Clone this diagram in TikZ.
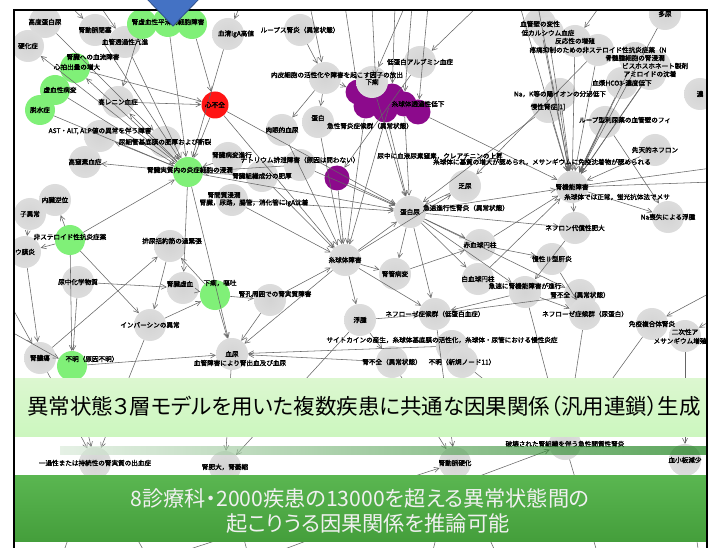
\documentclass[tikz,border=0pt]{standalone}
\usepackage{fontspec}
\newfontfamily\jp[RawFeature=+palt]{Noto Sans CJK JP}
\newfontfamily\jpb[FakeBold=2]{Noto Sans CJK JP}
\usetikzlibrary{arrows.meta,calc}
\definecolor{lgreen}{RGB}{128,240,120}
\definecolor{hfred}{RGB}{255,20,20}
\definecolor{purp}{RGB}{140,10,140}
\definecolor{arrblue}{RGB}{68,114,196}
\definecolor{lban}{RGB}{214,246,200}
\definecolor{dban}{RGB}{76,176,66}
\pgfdeclareradialshading{grayblob}{\pgfpoint{0bp}{0bp}}{color(0bp)=(black!17); color(30bp)=(black!13); color(50bp)=(white)}
\pgfdeclareradialshading{greenblob}{\pgfpoint{0bp}{0bp}}{color(0bp)=(lgreen); color(34bp)=(lgreen); color(50bp)=(lgreen!20!white)}
\tikzset{
	blob/.style={circle, minimum size=32pt, inner sep=0pt, shade, shading=grayblob},
	gblob/.style={circle, minimum size=30pt, inner sep=0pt, shade, shading=greenblob},
	rblob/.style={circle, minimum size=27pt, inner sep=0pt, fill=hfred},
	pblob/.style={circle, minimum size=25pt, inner sep=0pt, fill=purp},
	lbl/.style={font=\jpb\fontsize{6.6}{7.5}\selectfont, inner sep=0pt},
	arr/.style={-{Straight Barb[length=5pt,width=5pt]}, draw=black!60, line width=0.55pt},
	bantitle/.style={font=\jp\fontsize{21.5}{25}\selectfont, inner sep=0pt},
	bansub/.style={font=\jp\fontsize{21.2}{25}\selectfont, text=white!94!black, inner sep=0pt},
}

\begin{document}
\begin{tikzpicture}[x=1pt,y=-1pt]
			%%%%% START %%%%%
			\useasboundingbox (0,0) rectangle (720,548);
			\fill[white] (0,0) rectangle (720,548);
			
			\begin{scope}
			\clip (14,10) rectangle (707,548);
			
			% top row
			\node[blob] (kodo) at (45,22) {};
			\node[blob] (domyaku) at (95,30) {};
			\node[blob] (kekkan) at (125,42) {};
			\node[gblob] (kyoA) at (142,24) {};
			\node[gblob] (kyoB) at (168,22) {};
			\node[gblob] (kyoC) at (192,24) {};
			\node[blob] (iga) at (228,34) {};
			\node[blob] (lupus) at (300,30) {};
			\node[blob] (koukasho) at (28,46) {};
			
			\node[gblob] (shinpaku) at (75,68) {};
			\node[gblob] (kyoketsu) at (55,90) {};
			\node[gblob] (dassui) at (40,110) {};
			\node[blob] (renin) at (118,102) {};
			\node[rblob] (shinfuzen) at (215,105) {};
			\node[blob] (naihi) at (325,78) {};
			\node[blob] (ast) at (100,136) {};
			\node[blob] (nyosaikan) at (165,142) {};
			\node[blob] (chisso) at (85,162) {};
			\node[gblob] (jisshitsu) at (188,172) {};
			\node[blob] (shinbyo) at (228,158) {};
			\node[blob] (natri) at (300,165) {};
			\node[blob] (soshiki) at (262,176) {};
			\node[blob] (nikugan) at (282,130) {};
			\node[blob] (tanpakuA) at (318,122) {};
			\node[blob] (kanshitsu) at (232,200) {};
			
			% purple group
			\node[pblob] (pA) at (358,92) {};
			\node[pblob] (pB) at (376,88) {};
			\node[pblob] (pG) at (366,106) {};
			\node[pblob] (pC) at (392,96) {};
			\node[pblob] (pF) at (385,110) {};
			\node[pblob] (pD) at (404,104) {};
			\node[pblob] (pE) at (418,112) {};
			\node[pblob] (pH) at (337,178) {};
			
			% right top
			\node[blob] (kekkanheki) at (540,24) {};
			\node[blob] (lowca) at (548,33) {};
			\node[blob] (hannou) at (575,41) {};
			\node[blob] (nsaid) at (598,50) {};
			\node[blob] (tanyo) at (665,14) {};
			\node[blob] (kotsuzui) at (635,58) {};
			\node[blob] (bisu) at (655,66) {};
			\node[blob] (amyloid) at (650,74) {};
			\node[blob] (alb) at (420,62) {};
			\node[blob] (geri) at (372,82) {};
			\node[blob] (hco3) at (622,83) {};
			\node[blob] (nak) at (560,94) {};
			\node[blob] (noko) at (700,94) {};
			\node[blob] (mansei) at (548,107) {};
			\node[blob] (loop) at (605,122) {};
			\node[blob] (senten) at (655,150) {};
			\node[blob] (kinou) at (572,187) {};
			\node[blob] (naSoshitsu) at (668,217) {};
			\node[blob] (nephron) at (575,228) {};
			
			% middle
			\node[blob] (tanpaku) at (410,212) {};
			\node[blob] (bonyo) at (465,186) {};
			\node[blob] (sekkekkyu) at (480,245) {};
			\node[blob] (kanen) at (552,259) {};
			\node[blob] (shikyu) at (345,260) {};
			\node[blob] (jinkan) at (395,274) {};
			\node[blob] (hakkekkyu) at (478,279) {};
			\node[blob] (kyusoku) at (525,292) {};
			\node[blob] (fuzenA) at (580,295) {};
			\node[blob] (nephA) at (435,314) {};
			\node[blob] (nephB) at (585,314) {};
			\node[blob] (meneki) at (652,324) {};
			\node[blob] (nijisei) at (685,336) {};
			\node[blob] (fushu) at (360,320) {};
			\node[blob] (kiteimaku) at (452,346) {};
			\node[blob] (ketsunyo) at (232,354) {};
			\node[blob] (fuzenB) at (392,362) {};
			\node[blob] (fumeiB) at (462,362) {};
			
			% left
			\node[blob] (naizo) at (55,200) {};
			\node[blob] (idenshi) at (30,214) {};
			\node[gblob] (nsaidG) at (70,240) {};
			\node[blob] (makuen) at (25,252) {};
			\node[blob] (nyochu) at (78,282) {};
			\node[blob] (katsukin) at (170,246) {};
			\node[blob] (kyoketsu2) at (183,288) {};
			\node[gblob] (geriG) at (215,295) {};
			\node[blob] (jinkou) at (270,300) {};
			\node[blob] (inversin) at (150,325) {};
			\node[blob] (noyou) at (40,358) {};
			\node[gblob] (fumeiG) at (72,366) {};
			
			% between the banners
			\node[blob] (kyukan) at (565,444) {};
			\node[blob] (ikasei) at (95,463) {};
			\node[blob] (jinhi) at (225,467) {};
			\node[blob] (douka) at (455,463) {};
			\node[blob] (kesshoban) at (685,460) {};
			
			% free ends
			\coordinate (t1) at (70,6);
			\coordinate (t2) at (100,6);
			\coordinate (t3) at (240,6);
			\coordinate (t4) at (310,6);
			\coordinate (t5) at (345,6);
			\coordinate (t6) at (372,6);
			\coordinate (t7) at (395,6);
			\coordinate (t8) at (412,6);
			\coordinate (t9) at (428,6);
			\coordinate (t10) at (478,6);
			\coordinate (t11) at (405,6);
			\coordinate (t12) at (520,6);
			\coordinate (t13) at (538,6);
			\coordinate (t14) at (600,6);
			\coordinate (t15) at (690,6);
			\coordinate (r1) at (712,168);
			\coordinate (r2) at (712,182);
			\coordinate (r3) at (712,292);
			\coordinate (r4) at (712,320);
			\coordinate (l1) at (8,300);
			\coordinate (l2) at (8,330);
			\coordinate (b1) at (60,562);
			\coordinate (b2) at (250,562);
			\coordinate (b3) at (430,562);
			\coordinate (b4) at (600,562);
			\coordinate (b5) at (700,562);
			\coordinate (b6) at (150,562);
			\coordinate (b7) at (500,562);
			
			% connectors
			\draw[arr] (t1) -- (domyaku);
			\draw[arr] (t2) -- (kekkan);
			\draw[arr] (t3) -- (iga);
			\draw[arr] (t4) -- (naihi);
			\draw[arr] (t5) -- (pA);
			\draw[arr] (t6) -- (pB);
			\draw[arr] (t7) -- (pC);
			\draw[arr] (t8) -- (pD);
			\draw[arr] (t9) -- (pE);
			\draw[arr] (t10) -- (alb);
			\draw[arr] (t11) -- (geri);
			\draw[arr] (t12) -- (kinou);
			\draw[arr] (t13) -- (kinou);
			\draw[arr] (t14) -- (hannou);
			\draw[arr] (t15) -- (tanyo);
			
			\draw[arr] (jisshitsu) -- (ast);
			\draw[arr] (jisshitsu) -- (chisso);
			\draw[arr] (jisshitsu) -- (renin);
			\draw[arr] (jisshitsu) -- (shinpaku);
			\draw[arr] (jisshitsu) -- (koukasho);
			\draw[arr] (kyoketsu) -- (jisshitsu);
			\draw[arr] (dassui) -- (jisshitsu);
			\draw[arr] (nyosaikan) -- (jisshitsu);
			\draw[arr] (kyoB) -- (jisshitsu);
			\draw[arr] (kekkan) -- (jisshitsu);
			\draw[arr] (domyaku) -- (jisshitsu);
			\draw[arr] (kodo) -- (nyosaikan);
			\draw[arr] (iga) -- (jisshitsu);
			\draw[arr] (shinfuzen) -- (jisshitsu);
			\draw[arr] (shinbyo) -- (jisshitsu);
			\draw[arr] (natri) -- (jisshitsu);
			\draw[arr] (soshiki) -- (jisshitsu);
			\draw[arr] (jisshitsu) -- (tanpaku);
			\draw[arr] (nsaidG) -- (jisshitsu);
			\draw[arr] (jisshitsu) -- (kyoketsu2);
			\draw[arr] (jisshitsu) -- (ketsunyo);
			\draw[arr] (renin) -- (shinfuzen);
			\draw[arr] (shinpaku) -- (shinfuzen);
			\draw[arr] (kyoC) -- (shinfuzen);
			\draw[arr] (kyoA) -- (renin);
			\draw[arr] (shinfuzen) -- (shikyu);
			\draw[arr] (shinfuzen) -- (tanpaku);
			\draw[arr] (lupus) -- (naihi);
			\draw[arr] (naihi) -- (pA);
			\draw[arr] (naihi) -- (tanpakuA);
			\draw[arr] (naihi) -- (nikugan);
			
			\draw[arr] (pC) -- (shikyu);
			\draw[arr] (pD) -- (tanpaku);
			\draw[arr] (pF) -- (tanpaku);
			\draw[arr] (pG) -- (shikyu);
			\draw[arr] (pE) -- (kinou);
			\draw[arr] (pH) -- (shikyu);
			\draw[arr] (pH) -- (tanpaku);
			\draw[arr] (geri) -- (tanpaku);
			\draw[arr] (alb) -- (pH);
			
			\draw[arr] (kekkanheki) -- (kinou);
			\draw[arr] (lowca) -- (kinou);
			\draw[arr] (hannou) -- (kinou);
			\draw[arr] (nsaid) -- (kinou);
			\draw[arr] (kotsuzui) -- (kinou);
			\draw[arr] (bisu) -- (kinou);
			\draw[arr] (amyloid) -- (kinou);
			\draw[arr] (hco3) -- (kinou);
			\draw[arr] (nak) -- (kinou);
			\draw[arr] (mansei) -- (kinou);
			\draw[arr] (loop) -- (kinou);
			\draw[arr] (senten) -- (kinou);
			\draw[arr] (tanyo) -- (kinou);
			\draw[arr] (kinou) -- (naSoshitsu);
			\draw[arr] (kinou) -- (nephron);
			\draw[arr] (kinou) -- (r1);
			\draw[arr] (kinou) -- (r2);
			\draw[arr] (loop) -- (naSoshitsu);
			\draw[arr] (mansei) -- (tanpaku);
			\draw[arr] (nsaid) -- (bonyo);
			
			\draw[arr] (natri) -- (tanpaku);
			\draw[arr] (bonyo) -- (tanpaku);
			\draw[arr] (tanpaku) -- (kinou);
			\draw[arr] (tanpaku) -- (sekkekkyu);
			\draw[arr] (tanpaku) -- (hakkekkyu);
			\draw[arr] (tanpaku) -- (nephA);
			\draw[arr] (tanpaku) -- (kyusoku);
			\draw[arr] (tanpaku) -- (jinkan);
			\draw[arr] (tanpaku) -- (fuzenA);
			\draw[arr] (tanpaku) -- (nephron);
			\draw[arr] (shikyu) -- (tanpaku);
			\draw[arr] (kanshitsu) -- (tanpaku);
			
			\draw[arr] (kanshitsu) -- (shikyu);
			\draw[arr] (tanpakuA) -- (shikyu);
			\draw[arr] (nikugan) -- (shikyu);
			\draw[arr] (jinkou) -- (shikyu);
			\draw[arr] (soshiki) -- (shikyu);
			\draw[arr] (shikyu) -- (fushu);
			\draw[arr] (shikyu) -- (jinkan);
			\draw[arr] (shikyu) -- (nephA);
			\draw[arr] (shikyu) -- (ketsunyo);
			\draw[arr] (shikyu) -- (bonyo);
			
			\draw[arr] (sekkekkyu) -- (kinou);
			\draw[arr] (sekkekkyu) -- (kanen);
			\draw[arr] (jinkan) -- (sekkekkyu);
			\draw[arr] (hakkekkyu) -- (kinou);
			\draw[arr] (kyusoku) -- (nephA);
			\draw[arr] (kyusoku) -- (nephB);
			\draw[arr] (fuzenA) -- (nephA);
			\draw[arr] (fushu) -- (nephA);
			\draw[arr] (fushu) -- (fuzenB);
			\draw[arr] (kiteimaku) -- (ketsunyo);
			\draw[arr] (fuzenB) -- (ketsunyo);
			\draw[arr] (r3) -- (meneki);
			\draw[arr] (r4) -- (nijisei);
			\draw[arr] (nephron) -- (kyusoku);
			\draw[arr] (kanen) -- (nephB);
			
			\draw[arr] (nsaidG) -- (naizo);
			\draw[arr] (nsaidG) -- (makuen);
			\draw[arr] (nsaidG) -- (inversin);
			\draw[arr] (nsaidG) -- (fumeiG);
			\draw[arr] (idenshi) -- (makuen);
			\draw[arr] (makuen) -- (noyou);
			\draw[arr] (nyochu) -- (fumeiG);
			\draw[arr] (nyochu) -- (kyoketsu2);
			\draw[arr] (noyou) -- (katsukin);
			\draw[arr] (geriG) -- (katsukin);
			\draw[arr] (kyoketsu2) -- (geriG);
			\draw[arr] (geriG) -- (ketsunyo);
			\draw[arr] (geriG) -- (jinkou);
			\draw[arr] (inversin) -- (geriG);
			\draw[arr] (katsukin) -- (inversin);
			\draw[arr] (l1) -- (noyou);
			\draw[arr] (l2) -- (fumeiG);
			\draw[arr] (fumeiG) -- (ketsunyo);
			\draw[arr] (jinkou) -- (ketsunyo);
			
			\draw[arr] (fumeiG) -- (ikasei);
			\draw[arr] (noyou) -- (ikasei);
			\draw[arr] (inversin) -- (ikasei);
			\draw[arr] (ketsunyo) -- (jinhi);
			\draw[arr] (fushu) -- (jinhi);
			\draw[arr] (fuzenB) -- (douka);
			\draw[arr] (nephA) -- (douka);
			\draw[arr] (nephB) -- (kyukan);
			\draw[arr] (meneki) -- (kyukan);
			\draw[arr] (kyusoku) -- (kyukan);
			\draw[arr] (nijisei) -- (kesshoban);
			\draw[arr] (fumeiB) -- (kyukan);
			\draw[arr] (ikasei) -- (b1);
			\draw[arr] (ikasei) -- (b6);
			\draw[arr] (jinhi) -- (b2);
			\draw[arr] (douka) -- (b3);
			\draw[arr] (douka) -- (b7);
			\draw[arr] (kyukan) -- (b4);
			\draw[arr] (kesshoban) -- (b5);
			\draw[arr] (b2) -- (kyukan);
			\draw[arr] (b6) -- (douka);
			
			% labels
			\node[lbl] (kodo-t) at (kodo) {高度蛋白尿};
			\node[lbl] (domyaku-t) at (domyaku) {腎動脈閉塞};
			\node[lbl] (kekkan-t) at (kekkan) {血管透過性亢進};
			\node[lbl] (kyoB-t) at (kyoB) {腎虚血性平滑筋細胞障害};
			\node[lbl] (iga-t) at ($(iga)+(8,0)$) {血清IgA高値};
			\node[lbl] (lupus-t) at (lupus) {ループス腎炎（異常状態）};
			\node[lbl] (koukasho-t) at (koukasho) {硬化症};
			\node[lbl] (shinpaku-t) at ($(shinpaku)+(18,-11)$) {腎臓への血流障害};
			\node[lbl] (shinpaku-u) at ($(shinpaku)+(2,-1)$) {心拍出量の増大};
			\node[lbl] (kyoketsu-t) at ($(kyoketsu)+(5,0)$) {虚血性病変};
			\node[lbl] (dassui-t) at (dassui) {脱水症};
			\node[lbl] (renin-t) at (renin) {高レニン血症};
			\node[lbl] (shinfuzen-t) at (shinfuzen) {心不全};
			\node[lbl] (naihi-t) at ($(naihi)+(12,-3)$) {内皮細胞の活性化や障害を起こす因子の放出};
			\node[lbl] (ast-t) at ($(ast)+(0,-5)$) {AST・ALT, ALP値の異常を伴う障害};
			\node[lbl] (nyosaikan-t) at (nyosaikan) {尿細管基底膜の肥厚および断裂};
			\node[lbl] (chisso-t) at (chisso) {高窒素血症};
			\node[lbl] (jisshitsu-t) at ($(jisshitsu)+(2,-2)$) {腎臓実質内の炎症細胞の浸潤};
			\node[lbl] (shinbyo-t) at ($(shinbyo)+(4,-3)$) {腎臓病変進行};
			\node[lbl] (natri-t) at ($(natri)+(0,-5)$) {ナトリウム排泄障害（原因は問わない）};
			\node[lbl] (soshiki-t) at (soshiki) {腎臓組織成分の肥厚};
			\node[lbl] (nikugan-t) at (nikugan) {肉眼的血尿};
			\node[lbl] (tanpakuA-t) at ($(tanpakuA)+(0,-4)$) {蛋白};
			\node[lbl] (tanpakuA-u) at ($(tanpakuA)+(52,4)$) {急性腎炎症候群（異常状態）};
			\node[lbl] (pD-t) at ($(pD)+(14,0)$) {糸球体透過性低下};
			\node[lbl] (kanshitsu-t) at ($(kanshitsu)+(-8,-5)$) {腎間質浸潤};
			\node[lbl] (kanshitsu-u) at ($(kanshitsu)+(22,3)$) {腎臓，尿路，腸管，消化管にIgA沈着};
			
			\node[lbl] (kekkanheki-t) at (kekkanheki) {血管壁の変性};
			\node[lbl] (lowca-t) at (lowca) {低カルシウム血症};
			\node[lbl] (hannou-t) at (hannou) {反応性の増殖};
			\node[lbl] (nsaid-t) at (nsaid) {疼痛抑制のための非ステロイド性抗炎症薬（N};
			\node[lbl] (tanyo-t) at (tanyo) {多尿};
			\node[lbl] (kotsuzui-t) at (kotsuzui) {骨髄腫細胞の腎浸潤};
			\node[lbl] (bisu-t) at (bisu) {ビスホスホネート製剤};
			\node[lbl] (amyloid-t) at (amyloid) {アミロイドの沈着};
			\node[lbl] (alb-t) at (alb) {低蛋白アルブミン血症};
			\node[lbl] (geri-t) at (geri) {下痢};
			\node[lbl] (hco3-t) at (hco3) {血漿HCO3-濃度低下};
			\node[lbl] (nak-t) at (nak) {Na，K等の陽イオンの分泌低下};
			\node[lbl] (noko-t) at (noko) {濃};
			\node[lbl] (mansei-t) at (mansei) {慢性腎症[1]};
			\node[lbl] (loop-t) at ($(loop)+(20,-2)$) {ループ型利尿薬の血管壁のフィ};
			\node[lbl] (senten-t) at (senten) {先天的ネフロン};
			\node[lbl] (nyouso-t) at ($(bonyo)+(-25,-30)$) {尿中に血液尿素窒素，クレアチニンの上昇};
			\node[lbl] (mesan-t) at ($(kinou)+(-30,-25)$) {糸球体に基質の増大が認められ，メサンギウムに免疫沈着物が認められる};
			\node[lbl] (kinou-t) at (kinou) {腎機能障害};
			\node[lbl] (seijou-t) at ($(kinou)+(45,10)$) {糸球体では正常，蛍光抗体法でメサ};
			\node[lbl] (naSoshitsu-t) at (naSoshitsu) {Na喪失による浮腫};
			\node[lbl] (nephron-t) at (nephron) {ネフロン代償性肥大};
			
			\node[lbl] (tanpaku-t) at (tanpaku) {蛋白尿};
			\node[lbl] (tanpaku-u) at ($(tanpaku)+(56,-4)$) {急速進行性腎炎（異常状態）};
			\node[lbl] (bonyo-t) at (bonyo) {乏尿};
			\node[lbl] (sekkekkyu-t) at (sekkekkyu) {赤血球円柱};
			\node[lbl] (kanen-t) at (kanen) {慢性Ⅱ型肝炎};
			\node[lbl] (shikyu-t) at (shikyu) {糸球体障害};
			\node[lbl] (jinkan-t) at (jinkan) {腎管病変};
			\node[lbl] (hakkekkyu-t) at (hakkekkyu) {白血球円柱};
			\node[lbl] (kyusoku-t) at ($(kyusoku)+(0,-6)$) {急速に腎機能障害が進行};
			\node[lbl] (fuzenA-t) at (fuzenA) {腎不全（異常状態）};
			\node[lbl] (nephA-t) at (nephA) {ネフローゼ症候群（低蛋白血症）};
			\node[lbl] (nephB-t) at (nephB) {ネフローゼ症候群（尿蛋白）};
			\node[lbl] (meneki-t) at (meneki) {免疫複合体腎炎};
			\node[lbl] (nijisei-t) at ($(nijisei)+(0,-4)$) {二次性ア};
			\node[lbl] (nijisei-u) at ($(nijisei)+(-5,5)$) {メサンギウム増殖};
			\node[lbl] (fushu-t) at (fushu) {浮腫};
			\node[lbl] (kiteimaku-t) at ($(kiteimaku)+(-10,-6)$) {サイトカインの産生，糸球体基底膜の活性化，糸球体・尿管における慢性炎症};
			\node[lbl] (ketsunyo-t) at (ketsunyo) {血尿};
			\node[lbl] (ketsunyo-u) at ($(ketsunyo)+(8,9)$) {血管障害により腎出血及び血尿};
			\node[lbl] (fuzenB-t) at (fuzenB) {腎不全（異常状態）};
			\node[lbl] (fumeiB-t) at (fumeiB) {不明（新規ノード11）};
			
			\node[lbl] (naizo-t) at (naizo) {内臓逆位};
			\node[lbl] (idenshi-t) at (idenshi) {子異常};
			\node[lbl] (nsaidG-t) at ($(nsaidG)+(0,-3)$) {非ステロイド性抗炎症薬};
			\node[lbl] (makuen-t) at (makuen) {ウ膜炎};
			\node[lbl] (nyochu-t) at (nyochu) {尿中化学物質};
			\node[lbl] (katsukin-t) at ($(katsukin)+(2,-5)$) {排尿括約筋の過緊張};
			\node[lbl] (kyoketsu2-t) at ($(kyoketsu2)+(-3,-4)$) {腎臓虚血};
			\node[lbl] (geriG-t) at ($(geriG)+(5,-12)$) {下痢，嘔吐};
			\node[lbl] (jinkou-t) at ($(jinkou)+(5,-6)$) {腎孔周囲での腎実質障害};
			\node[lbl] (inversin-t) at (inversin) {インバーシンの異常};
			\node[lbl] (noyou-t) at (noyou) {腎膿瘍};
			\node[lbl] (fumeiG-t) at ($(fumeiG)+(20,-7)$) {不明（原因不明）};
			
			\node[lbl] (kyukan-t) at (kyukan) {破壊された腎組織を伴う急性間質性腎炎};
			\node[lbl] (ikasei-t) at (ikasei) {一過性または持続性の腎実質の出血症};
			\node[lbl] (jinhi-t) at (jinhi) {腎肥大，腎萎縮};
			\node[lbl] (douka-t) at (douka) {腎動脈硬化};
			\node[lbl] (kesshoban-t) at (kesshoban) {血小板減少};
			
			% banners
			\shade[top color=lban!85!white, bottom color=lban!92!green!60!lban] (0,378) rectangle (720,436);
			\shade[left color=green!45!black!15!white, right color=green!45!black, opacity=0.65] (60,446) rectangle (720,454);
			\shade[top color=dban!92!white, bottom color=dban!90!black] (0,475) rectangle (720,541);
			\end{scope}
			
			\node[bantitle] (title) at (364,406) {異常状態３層モデルを用いた複数疾患に共通な因果関係（汎用連鎖）生成};
			\node[bansub] (sub1) at (360,498) {8診療科・2000疾患の13000を超える異常状態間の};
			\node[bansub] (sub2) at (368,524) {起こりうる因果関係を推論可能};
			
			\draw[line width=1.6pt] (14,10) rectangle (707,560);
			
			\draw[fill=arrblue, draw=arrblue!70!black, line width=0.8pt] (146,-2) -- (200,-2) -- (173,26) -- cycle;
			
			%%%%% END %%%%%
		\end{tikzpicture}
\end{document}
